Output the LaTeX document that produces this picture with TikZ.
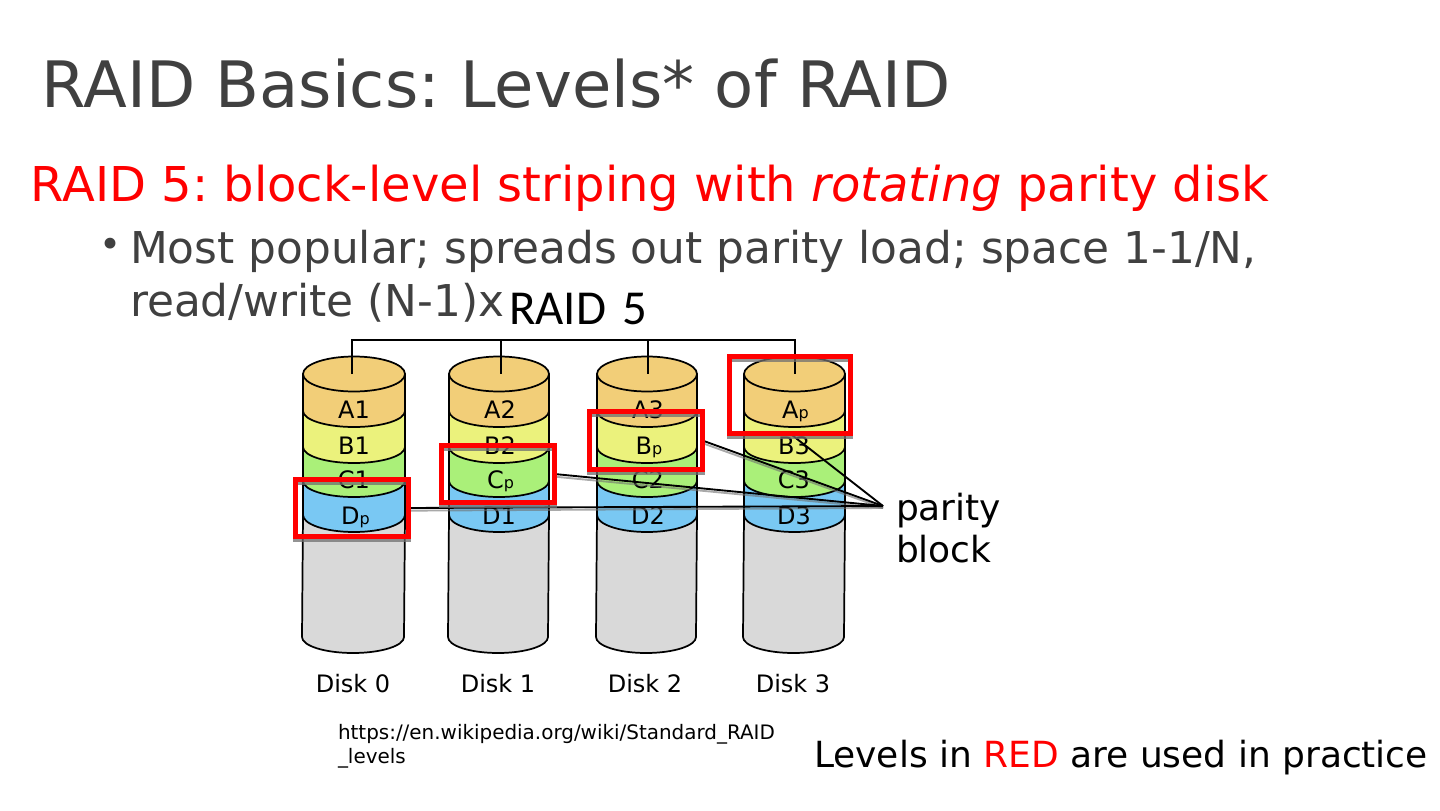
\documentclass[tikz,border=0pt]{standalone}
\usepackage{fontspec}
\setmainfont{DejaVu Sans}
\newfontfamily\carl{Carlito}
\frenchspacing
\definecolor{titlegray}{HTML}{404040}
\definecolor{bandA}{HTML}{F2CE78}
\definecolor{bandB}{HTML}{EBF27C}
\definecolor{bandC}{HTML}{AAF079}
\definecolor{bandD}{HTML}{79C8F3}
\definecolor{bandG}{HTML}{D9D9D9}
\definecolor{shadowgray}{HTML}{707070}
\newcommand{\fs}[1]{\fontsize{#1}{#1}\selectfont}
\newcommand{\subp}{{\fs{12}p}}
\tikzset{
  txt/.style={anchor=base west,inner sep=0pt,outer sep=0pt},
  disklbl/.style={anchor=base,inner sep=0pt,font=\fs{18}},
  band/.style={draw=black,line width=1.3pt,line join=round},
  tree/.style={draw=black,line width=0.85pt},
  boxspot/.style={inner sep=0pt,outer sep=0pt,anchor=north west},
  shadowbox/.style={draw=shadowgray,line width=3.75pt,opacity=.75},
  redbox/.style={draw=red,line width=3.75pt},
  parity/.style={draw=black,line width=1.4pt},
  parityshadow/.style={draw=shadowgray,line width=1.4pt,opacity=.6}
}
% #1 left at top, #2 right at top
\newcommand{\onedisk}[2]{%
  \pgfmathsetmacro{\rx}{(#2-#1)/2}
  \pgfmathsetmacro{\cx}{(#2+#1)/2}
  \path[band,fill=bandG] (#1,515) -- (#1-1,637) arc[start angle=180,end angle=0,x radius=\rx,y radius=16] -- (#2,515) -- cycle;
  \path[band,fill=bandD] (#1,480) -- (#1,515) arc[start angle=180,end angle=0,x radius=\rx,y radius=17] -- (#2,480) -- cycle;
  \path[band,fill=bandC] (#1,445) -- (#1,481) arc[start angle=180,end angle=0,x radius=\rx,y radius=16] -- (#2,445) -- cycle;
  \path[band,fill=bandB] (#1,410) -- (#1,447) arc[start angle=180,end angle=0,x radius=\rx,y radius=16] -- (#2,410) -- cycle;
  \path[band,fill=bandA] (#1,374) -- (#1,411) arc[start angle=180,end angle=0,x radius=\rx,y radius=16] -- (#2,374) -- cycle;
  \path[band,fill=bandA] (\cx,374) ellipse[x radius=\rx,y radius=17.5];
}
\begin{document}
\begin{tikzpicture}[x=0.75pt,y=-0.75pt]
\useasboundingbox (0,0) rectangle (1440,811);
\fill[white] (0,0) rectangle (1440,811);

\node[txt,text=titlegray,font=\fs{48}] (title) at (41.5,107) {RAID Basics: Levels* of RAID};
\node[txt,text=red,font=\fs{36}] (sub) at (31,201) {RAID 5: block-level striping with \textit{rotating} parity disk};
\node[txt,text=titlegray,font=\fs{28}] (bul) at (99.5,257) {•};
\node[txt,text=titlegray,font=\fs{32.88}] (l1) at (130,263) {Most popular; spreads out parity load; space 1-1/N,};
\node[txt,text=titlegray,font=\fs{32.88}] (l2) at (130,316) {read/write (N-1)x};
\node[txt,font=\carl\fs{36.6}] (raid) at (509,324) {RAID\hspace{12pt}5};

\onedisk{303}{405}
\onedisk{449}{549}
\onedisk{597}{697}
\onedisk{744}{845}

% tree
\coordinate (t0) at (352,374);
\coordinate (t1) at (501,374);
\coordinate (t2) at (648,374);
\coordinate (t3) at (795,374);
\coordinate (u0) at (352,340);
\coordinate (u1) at (501,340);
\coordinate (u2) at (648,340);
\coordinate (u3) at (795,340);
\draw[tree] (t0) -- (u0) -- (u3) -- (t3);
\draw[tree] (u1) -- (t1);
\draw[tree] (u2) -- (t2);

% cell labels
\foreach \n/\x/\y/\t in {a1/354/418.5/A1,b1/354/454.5/B1,c1/354/488.5/C1,
  a2/500/418.5/A2,b2/500/454.5/B2,d1/499/524.5/D1,
  a3/648/418.5/A3,c2/648/488.5/C2,d2/648/524.5/D2,
  b3/794/454.5/B3,c3/794/488.5/C3,d3/794/524.5/D3}
  \node[disklbl] (\n) at (\x,\y) {\t};
\node[disklbl] (dp) at (355.5,524.5) {D\subp};
\node[disklbl] (cp) at (500.5,488.5) {C\subp};
\node[disklbl] (bp) at (649,454.5) {B\subp};
\node[disklbl] (ap) at (795.5,418.5) {A\subp};

% disk names
\foreach \n/\x/\t in {n0/353/Disk 0,n1/498/Disk 1,n2/645/Disk 2,n3/793/Disk 3}
  \node[disklbl] (\n) at (\x,692) {\t};

% red boxes (defined first, drawn over the connectors)
\path (295.5,479.5) node[boxspot,minimum width=84.75pt,minimum height=42.75pt] (boxD) {};
\path (441.5,445.5) node[boxspot,minimum width=84.75pt,minimum height=42.75pt] (boxC) {};
\path (589.5,411.5) node[boxspot,minimum width=84.75pt,minimum height=43.5pt] (boxB) {};
\path (729.5,356.5) node[boxspot,minimum width=90.75pt,minimum height=57.75pt] (boxA) {};

% parity lines
\coordinate (apex) at (883,506);
\foreach \p in {boxB.east,boxC.east,boxD.east} \draw[parityshadow] ([yshift=-2pt]\p) -- ([yshift=-1.5pt]apex);
\foreach \p in {boxA.south,boxB.east,boxC.east,boxD.east} \draw[parity] (\p) -- (apex);

% shadows of boxes and boxes
\foreach \b in {boxD,boxC,boxB,boxA}{
  \draw[shadowbox] ([yshift=-2.25pt]\b.north west) rectangle ([yshift=-2.25pt]\b.south east);
}
\foreach \b in {boxD,boxC,boxB,boxA}{
  \draw[redbox] (\b.north west) rectangle (\b.south east);
}

\node[txt,font=\fs{27}] (par) at (896,520) {parity};
\node[txt,font=\fs{27}] (blk) at (896,562) {block};
\node[txt,font=\fs{14.95}] (url) at (338,739) {https://en.wikipedia.org/wiki/Standard\_RAID};
\node[txt,font=\fs{14.95}] (url2) at (338,763) {\_levels};
\node[txt,font=\fs{27}] (lev) at (814,767) {Levels in \textcolor{red}{RED} are used in practice};
\end{tikzpicture}
\end{document}
